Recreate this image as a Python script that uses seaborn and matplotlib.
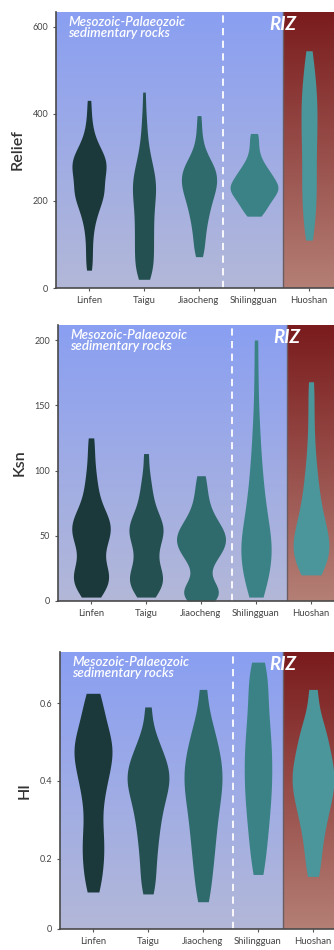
import numpy as np
import matplotlib
matplotlib.use("Agg")
import matplotlib.pyplot as plt
from matplotlib.colors import LinearSegmentedColormap
import seaborn as sns

# ==========================================
# 1. DATA
# ==========================================
sites = ["Linfen", "Taigu", "Jiaocheng", "Shilingguan", "Huoshan"]

relief_linfen = [41, 62, 85, 108, 128, 145, 158, 168, 177, 185, 192, 198, 204, 209, 214, 218, 222,
                 226, 231, 236, 242, 248, 254, 259, 264, 268, 272, 276, 280, 284, 288, 292, 296, 300,
                 304, 309, 314, 320, 328, 338, 350, 368, 395, 431]
relief_taigu = [20, 26, 34, 42, 50, 58, 66, 74, 82, 90, 98, 106, 114, 122, 130, 138, 146, 154, 162,
                170, 178, 186, 193, 200, 207, 214, 220, 226, 232, 238, 244, 250, 256, 263, 270, 278,
                287, 297, 310, 325, 345, 370, 400, 450]
relief_jiaocheng = [72, 85, 100, 112, 124, 135, 145, 154, 162, 170, 177, 184, 190, 196, 202, 207,
                    212, 217, 222, 226, 230, 234, 238, 242, 246, 250, 254, 258, 262, 266, 270, 274,
                    278, 283, 288, 294, 301, 310, 322, 340, 365, 396]
relief_shilingguan = [165, 172, 180, 186, 192, 197, 202, 206, 210, 214, 218, 221, 224, 227, 230, 233,
                      236, 239, 242, 246, 250, 254, 258, 262, 267, 272, 278, 285, 293, 305, 320, 338, 355]
relief_huoshan = [110, 135, 160, 180, 198, 215, 232, 250, 268, 286, 304, 322, 340, 356, 372, 388,
                  404, 420, 436, 452, 470, 490, 515, 545]

ksn_linfen = [3, 6, 9, 12, 14, 16, 18, 20, 22, 24, 27, 31, 35, 39, 42, 45, 48, 50, 52, 54, 56, 58,
              60, 62, 64, 67, 70, 74, 79, 85, 92, 100, 112, 125]
ksn_taigu = [3, 6, 9, 12, 14, 16, 18, 20, 22, 25, 29, 33, 37, 41, 44, 47, 50, 52, 54, 56, 58, 60,
             63, 66, 70, 75, 81, 88, 97, 113]
ksn_jiaocheng = [0, 2, 4, 6, 8, 10, 12, 21, 28, 32, 35, 38, 40, 42, 44, 46, 48, 50, 52, 54, 56, 59,
                 62, 66, 71, 78, 86, 96]
ksn_shilingguan = [3, 8, 13, 18, 22, 26, 30, 34, 37, 40, 43, 46, 50, 54, 58, 63, 68, 74, 80, 87, 95,
                   104, 115, 128, 145, 170, 200]
ksn_huoshan = [20, 24, 28, 31, 34, 37, 40, 43, 46, 49, 52, 56, 60, 65, 70, 76, 83, 91, 100, 112, 128,
               148, 168]

hi_linfen = [0.115, 0.14, 0.165, 0.19, 0.21, 0.23, 0.25, 0.27, 0.295, 0.325, 0.35, 0.37, 0.39, 0.405,
             0.42, 0.435, 0.448, 0.46, 0.47, 0.48, 0.49, 0.50, 0.512, 0.525, 0.54, 0.56, 0.585,
             0.605, 0.625]
hi_taigu = [0.11, 0.14, 0.17, 0.2, 0.225, 0.25, 0.27, 0.29, 0.31, 0.325, 0.34, 0.355, 0.37, 0.38,
            0.39, 0.4, 0.41, 0.42, 0.43, 0.44, 0.452, 0.465, 0.48, 0.5, 0.525, 0.59]
hi_jiaocheng = [0.09, 0.13, 0.165, 0.195, 0.22, 0.245, 0.27, 0.29, 0.31, 0.33, 0.35, 0.365, 0.38,
                0.395, 0.41, 0.425, 0.44, 0.455, 0.47, 0.49, 0.51, 0.535, 0.565, 0.635]
hi_shilingguan = [0.16, 0.2, 0.235, 0.265, 0.29, 0.315, 0.34, 0.36, 0.38, 0.4, 0.42, 0.44, 0.46,
                  0.48, 0.5, 0.52, 0.545, 0.57, 0.595, 0.625, 0.655, 0.68, 0.705]
hi_huoshan = [0.155, 0.2, 0.24, 0.27, 0.3, 0.32, 0.34, 0.36, 0.375, 0.39, 0.405, 0.42, 0.435, 0.45,
              0.47, 0.49, 0.51, 0.535, 0.565, 0.635]

# ==========================================
# 2. STYLE
# ==========================================
sns.set_style("ticks")
plt.rcParams["font.family"] = ["Lato", "DejaVu Sans"]

violin_colors = ["#1b393b", "#255052", "#2f6a6c", "#3b8286", "#4a969b"]
blue_bg = LinearSegmentedColormap.from_list("blue_bg", ["#8a9ff2", "#b3b8d8"])
red_bg = LinearSegmentedColormap.from_list("red_bg", ["#7a1b1d", "#b47f75"])
grad = np.linspace(0, 1, 256).reshape(-1, 1)

panels = [
    {"label": "Relief", "data": [relief_linfen, relief_taigu, relief_jiaocheng, relief_shilingguan, relief_huoshan],
     "rect": [56 / 334, 662 / 950, 286 / 334, 276 / 950], "ylim": (0, 634),
     "ticks": [0, 200, 400, 600], "ticklabels": ["0", "200", "400", "600"],
     "widths": [0.62, 0.42, 0.64, 0.87, 0.29], "dash": 2.44, "riz": 3.53},
    {"label": "Ksn", "data": [ksn_linfen, ksn_taigu, ksn_jiaocheng, ksn_shilingguan, ksn_huoshan],
     "rect": [58 / 334, 349 / 950, 286 / 334, 276 / 950], "ylim": (0, 211.5),
     "ticks": [0, 50, 100, 150, 200], "ticklabels": ["0", "50", "100", "150", "200"],
     "widths": [0.70, 0.62, 0.89, 0.55, 0.65], "dash": 2.56, "riz": 3.56},
    {"label": "HI", "data": [hi_linfen, hi_taigu, hi_jiaocheng, hi_shilingguan, hi_huoshan],
     "rect": [60 / 334, 21 / 950, 286 / 334, 277 / 950], "ylim": (0.02, 0.731),
     "ticks": [0.02, 0.2, 0.4, 0.6], "ticklabels": ["0", "0.2", "0.4", "0.6"],
     "widths": [0.69, 0.76, 0.69, 0.50, 0.76], "dash": 2.545, "riz": 3.45},
]

fig = plt.figure(figsize=(3.34, 9.5), dpi=100)

for p in panels:
    ax = fig.add_axes(p["rect"])
    y0, y1 = p["ylim"]
    x0, x1 = -0.6, 4.6

    # gradient backgrounds
    ax.imshow(grad, extent=[x0, p["riz"], y0, y1], cmap=blue_bg, aspect="auto", zorder=0)
    ax.imshow(grad, extent=[p["riz"], x1, y0, y1], cmap=red_bg, aspect="auto", zorder=0)
    ax.axvline(p["riz"], color="#6b5c62", lw=1.0, zorder=1)
    ax.axvline(p["dash"], color="white", lw=1.3, ls=(0, (4, 3)), zorder=1)

    for name, vals, col, w in zip(sites, p["data"], violin_colors, p["widths"]):
        sns.violinplot(x=[name] * len(vals), y=vals, order=sites, color=col, width=w,
                       density_norm="width", cut=0, inner=None, linewidth=0, saturation=1,
                       bw_adjust=0.6, ax=ax, zorder=2)

    ax.set_xlim(x0, x1)
    ax.set_ylim(y0, y1)
    ax.set_xticks(range(len(sites)))
    ax.set_xticklabels(sites, fontsize=6.8, color="#444444")
    ax.set_yticks(p["ticks"])
    ax.set_yticklabels(p["ticklabels"], fontsize=6.5, color="#444444")
    ax.set_xlabel("")
    ax.set_ylabel(p["label"], fontsize=11.5, color="#333333", fontweight="semibold", labelpad=6)
    ax.tick_params(length=2.5, width=0.8, color="#555555", pad=3)
    for s in ["top", "right"]:
        ax.spines[s].set_visible(False)
    for s in ["left", "bottom"]:
        ax.spines[s].set_color("#4a4a4a")
        ax.spines[s].set_linewidth(1.2)

    ax.text(0.042, 0.985, "Mesozoic-Palaeozoic\nsedimentary rocks", transform=ax.transAxes,
            ha="left", va="top", color="white", fontsize=9.6, fontstyle="italic",
            fontweight="semibold", linespacing=0.9, zorder=3)
    ax.text(p["riz"], y1 - (y1 - y0) * 0.015, "RIZ", ha="center", va="top", color="white",
            fontsize=13.5, fontstyle="italic", fontweight="bold", zorder=3)

fig.savefig("out.png", dpi=100)
